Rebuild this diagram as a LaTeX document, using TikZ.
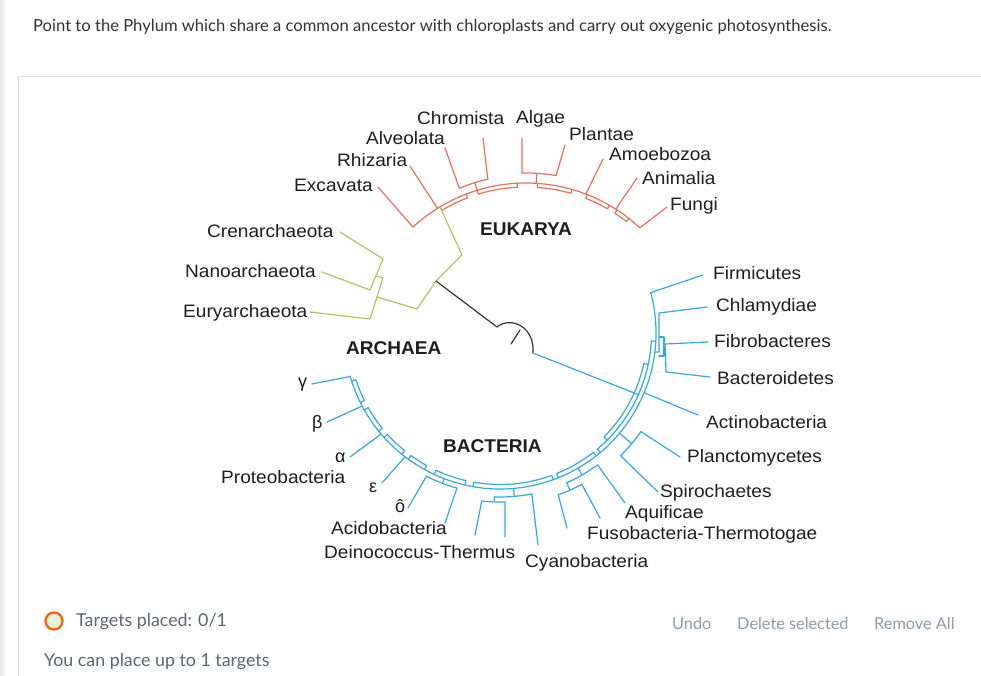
\documentclass[tikz,border=0pt]{standalone}
\usepackage{fontspec}
\setmainfont{Liberation Sans}
\newfontfamily\uifont{Lato}
\usetikzlibrary{calc}
\definecolor{eured}{HTML}{E8705E}
\definecolor{argreen}{HTML}{B2C463}
\definecolor{bablue}{HTML}{36A9DC}
\definecolor{rootgray}{HTML}{333333}
\definecolor{txt}{HTML}{1E1E1E}
\definecolor{uitext}{HTML}{333333}
\definecolor{uigray}{HTML}{5C6670}
\definecolor{uibtn}{HTML}{8C9BAD}
\definecolor{frameline}{HTML}{DCDCE4}
\definecolor{tgtorange}{HTML}{F5600A}
\definecolor{tgtfill}{HTML}{E6F2D5}
% tree helpers: center, radius, start angle, end angle, style
\newcommand\tArc[5]{\draw[#5] ($(#1)+(#3:#2)$) arc[start angle=#3, end angle=#4, radius=#2];}
% center, outer r, inner r, a1, a2, style
\newcommand\tBox[6]{\draw[#6] ($(#1)+(#4:#2)$) -- ($(#1)+(#4:#3)$) arc[start angle=#4, end angle=#5, radius=#3] -- ($(#1)+(#5:#2)$);}
% center, angle, r1, r2, style
\newcommand\tRad[5]{\draw[#5] ($(#1)+(#2:#3)$) -- ($(#1)+(#2:#4)$);}
% center, angle, r, tip, style
\newcommand\tLeaf[5]{\draw[#5] ($(#1)+(#2:#3)$) -- (#4);}
\newcommand\widelab[1]{\scalebox{1.06}[1]{#1}}
\newcommand\widedom[1]{\scalebox{1.03}[1]{#1}}
\begin{document}
\begin{tikzpicture}[x=1pt,y=1pt,line join=round,line cap=round,
  lab/.style={font=\fontsize{18}{20}\selectfont, text=txt, inner sep=0pt, anchor=base west},
  dom/.style={font=\fontsize{18.5}{20}\selectfont\bfseries, text=txt, inner sep=0pt, anchor=base west},
  eu/.style={draw=eured, line width=1.2pt},
  ar/.style={draw=argreen, line width=1.2pt},
  ba/.style={draw=bablue, line width=1.2pt},
  rt/.style={draw=rootgray, line width=1.2pt},
  ui/.style={font=\uifont\fontsize{17.8}{20}\selectfont, inner sep=0pt, anchor=base west},
  uib/.style={font=\uifont\fontsize{16.3}{19}\selectfont, inner sep=0pt, anchor=base west, text=uibtn}]
\useasboundingbox (0,0) rectangle (981,-676);
\fill[white] (0,0) rectangle (981,-676);
% page frame
\fill[left color=black!9, right color=white] (0,0) rectangle (7,-676);
\draw[frameline, line width=1pt] (981,-77) -- (18,-77) -- (18,-676);
% question
\node[ui, text=uitext, font=\uifont\fontsize{16.6}{19}\selectfont] (q) at (33,-32) {Point to the Phylum which share a common ancestor with chloroplasts and carry out oxygenic photosynthesis.};

\coordinate (E) at (526,-350);
\coordinate (B) at (500,-333);

% ---------- leaf tips ----------
\coordinate (excavT) at (378,-187);
\coordinate (rhizT) at (410,-166);
\coordinate (alveoT) at (445,-148);
\coordinate (chromT) at (483,-138);
\coordinate (algaeT) at (522,-138);
\coordinate (plantT) at (565,-145);
\coordinate (amoebT) at (603,-159);
\coordinate (animT) at (637,-178);
\coordinate (fungiT) at (667,-207);
\coordinate (crenT) at (340,-232);
\coordinate (nanoT) at (322,-272);
\coordinate (euryT) at (310,-312);
\coordinate (firmT) at (703,-275);
\coordinate (chlamT) at (707,-307);
\coordinate (fibroT) at (708,-342);
\coordinate (bacterT) at (710,-377);
\coordinate (actinoT) at (698,-415);
\coordinate (plancT) at (680,-457);
\coordinate (spiroT) at (658,-492);
\coordinate (aquifT) at (625,-503);
\coordinate (fusoAT) at (600,-518);
\coordinate (fusoBT) at (567,-528);
\coordinate (cyanoT) at (538,-545);
\coordinate (deinoAT) at (505,-537);
\coordinate (deinoBT) at (475,-535);
\coordinate (acidoT) at (445,-523);
\coordinate (deltaT) at (408,-508);
\coordinate (epsT) at (382,-483);
\coordinate (alphaT) at (350,-457);
\coordinate (betaT) at (327,-422);
\coordinate (gammaT) at (312,-384);
\coordinate (root) at (436,-281);
\coordinate (hookA) at (497,-327);
\coordinate (hookB) at (533,-353);

% ---------- EUKARYA ----------
\tArc{E}{167}{132.6}{47}{eu}
\tBox{E}{167}{163}{121}{111}{eu}
\tBox{E}{167}{163}{107}{93}{eu}
\tBox{E}{167}{163}{86}{74}{eu}
\tBox{E}{167}{163}{68.5}{60}{eu}
\tBox{E}{167}{163}{57}{52}{eu}
\tArc{E}{175}{112.4}{102.6}{eu}
\tRad{E}{107}{175}{167}{eu}
\tArc{E}{177}{91.3}{80.2}{eu}
\tRad{E}{86.5}{177}{167}{eu}
\tLeaf{E}{132.6}{167}{excavT}{eu}
\tLeaf{E}{122}{167}{rhizT}{eu}
\tLeaf{E}{112.4}{175}{alveoT}{eu}
\tLeaf{E}{102.6}{175}{chromT}{eu}
\tLeaf{E}{91.3}{177}{algaeT}{eu}
\tLeaf{E}{80.2}{177}{plantT}{eu}
\tLeaf{E}{69}{167}{amoebT}{eu}
\tLeaf{E}{57.5}{167}{animT}{eu}
\tLeaf{E}{47}{167}{fungiT}{eu}

% ---------- ARCHAEA ----------
\draw[ar] (crenT) -- (383,-259) -- (370,-290) -- (nanoT);
\draw[ar] (375.5,-276) -- (383,-277.5) -- (377,-297);
\draw[ar] (euryT) -- (370,-319) -- (377,-297) -- (417,-309) -- (root) -- (462,-255) -- ($(E)+(121:167)$);

% ---------- root ----------
\draw[rt] (root) -- (hookA) .. controls (510,-316) and (535,-326) .. (hookB);
\draw[rt] (511,-344) -- (520,-330);
\draw[ba] (hookB) -- ($(B)+(-24:152)$);

% ---------- BACTERIA ----------
\tArc{B}{156}{15}{-164}{ba}
\tBox{B}{156}{151.5}{-3}{-50}{ba}
\tBox{B}{151.5}{147}{-12}{-45}{ba}
\tBox{B}{156}{151.5}{-52}{-68}{ba}
\tBox{B}{156}{151.5}{-70}{-100}{ba}
\tBox{B}{156}{151.5}{-103}{-115}{ba}
\tBox{B}{156}{151.5}{-119}{-126}{ba}
\tBox{B}{156}{151.5}{-129}{-138}{ba}
\tBox{B}{156}{151.5}{-141}{-150.5}{ba}
\tBox{B}{156}{151.5}{-153.5}{-162}{ba}
% Chlamydiae group
\draw[ba] (chlamT) -- (659,-313) -- (659,-352) -- ($(B)+(-7:156)$);
\draw[ba] (fibroT) -- (665,-344) -- (666,-372) -- (bacterT);
\draw[ba] (659,-337) -- (664,-337) -- (664,-356) -- (659,-356);
% brackets
\tArc{B}{172}{-35}{-45.5}{ba}
\tRad{B}{-40}{172}{156}{ba}
\tArc{B}{172}{-61.6}{-70.2}{ba}
\tRad{B}{-66}{172}{164}{ba}
\tArc{B}{164}{-53.5}{-66}{ba}
\tRad{B}{-60}{164}{156}{ba}
\tArc{B}{169}{-88.3}{-96.2}{ba}
\tRad{B}{-92}{169}{164}{ba}
\tArc{B}{164}{-78.8}{-92}{ba}
\tRad{B}{-85}{164}{156}{ba}
\tArc{B}{161}{-105.5}{-117.2}{ba}
\tRad{B}{-111}{161}{156}{ba}
% leaves
\tLeaf{B}{15}{156}{firmT}{ba}
\tLeaf{B}{-22.5}{156}{actinoT}{ba}
\tLeaf{B}{-35}{172}{plancT}{ba}
\tLeaf{B}{-45.5}{172}{spiroT}{ba}
\tLeaf{B}{-53.5}{164}{aquifT}{ba}
\tLeaf{B}{-61.6}{172}{fusoAT}{ba}
\tLeaf{B}{-70.2}{172}{fusoBT}{ba}
\tLeaf{B}{-78.8}{164}{cyanoT}{ba}
\tLeaf{B}{-88.3}{169}{deinoAT}{ba}
\tLeaf{B}{-96.2}{169}{deinoBT}{ba}
\tLeaf{B}{-105.5}{161}{acidoT}{ba}
\tLeaf{B}{-117.2}{161}{deltaT}{ba}
\tLeaf{B}{-127.5}{156}{epsT}{ba}
\tLeaf{B}{-139.6}{156}{alphaT}{ba}
\tLeaf{B}{-152.1}{156}{betaT}{ba}
\tLeaf{B}{-163.8}{156}{gammaT}{ba}

% ---------- labels ----------
\node[lab] (chrom) at (417,-125) {\widelab{Chromista}};
\node[lab] (algae) at (516,-124) {\widelab{Algae}};
\node[lab] (alveo) at (366,-145) {\widelab{Alveolata}};
\node[lab] (plant) at (569,-141) {\widelab{Plantae}};
\node[lab] (rhiz) at (337,-167) {\widelab{Rhizaria}};
\node[lab] (amoeb) at (609,-161) {\widelab{Amoebozoa}};
\node[lab] (excav) at (294,-192) {\widelab{Excavata}};
\node[lab] (anim) at (642,-185) {\widelab{Animalia}};
\node[lab] (fungi) at (670,-211) {\widelab{Fungi}};
\node[dom] (eukarya) at (480,-236) {\widedom{EUKARYA}};
\node[lab] (cren) at (207,-237) {\widelab{Crenarchaeota}};
\node[lab] (nano) at (185,-277) {\widelab{Nanoarchaeota}};
\node[lab] (eury) at (183,-317) {\widelab{Euryarchaeota}};
\node[dom] (archaea) at (346,-354) {\widedom{ARCHAEA}};
\node[lab] (firm) at (713,-279) {\widelab{Firmicutes}};
\node[lab] (chlam) at (716,-311) {\widelab{Chlamydiae}};
\node[lab] (fibro) at (714,-347) {\widelab{Fibrobacteres}};
\node[lab] (bacter) at (717,-384) {\widelab{Bacteroidetes}};
\node[lab] (actino) at (706,-428) {\widelab{Actinobacteria}};
\node[lab] (planc) at (687,-462) {\widelab{Planctomycetes}};
\node[lab] (spiro) at (660,-497) {\widelab{Spirochaetes}};
\node[lab] (aquif) at (625,-518) {\widelab{Aquificae}};
\node[lab] (fuso) at (587,-539) {\widelab{Fusobacteria-Thermotogae}};
\node[lab] (cyano) at (525,-567) {\widelab{Cyanobacteria}};
\node[lab] (deino) at (324,-558) {\widelab{Deinococcus-Thermus}};
\node[lab] (acido) at (331,-534) {\widelab{Acidobacteria}};
\node[dom] (bacteria) at (443,-452) {\widedom{BACTERIA}};
\node[lab] (gamma) at (298,-387) {γ};
\node[lab] (beta) at (312,-428) {β};
\node[lab] (alpha) at (335,-462) {α};
\node[lab] (proteo) at (221,-483) {\widelab{Proteobacteria}};
\node[lab] (eps) at (369,-492) {ε};
\node[lab] (delta) at (395,-512) {ô};

% ---------- bottom UI ----------
\node[circle, draw=tgtorange, line width=2.2pt, fill=tgtfill, minimum size=17pt, inner sep=0pt] (tgt) at (54,-621) {};
\node[ui, text=uigray] (placed) at (76,-626) {Targets placed: 0/1};
\node[ui, text=uigray] (upto) at (44,-666) {You can place up to 1 targets};
\node[uib] (undo) at (672,-629) {Undo};
\node[uib] (delsel) at (737,-629) {Delete selected};
\node[uib] (remall) at (874,-629) {Remove All};
\end{tikzpicture}
\end{document}
